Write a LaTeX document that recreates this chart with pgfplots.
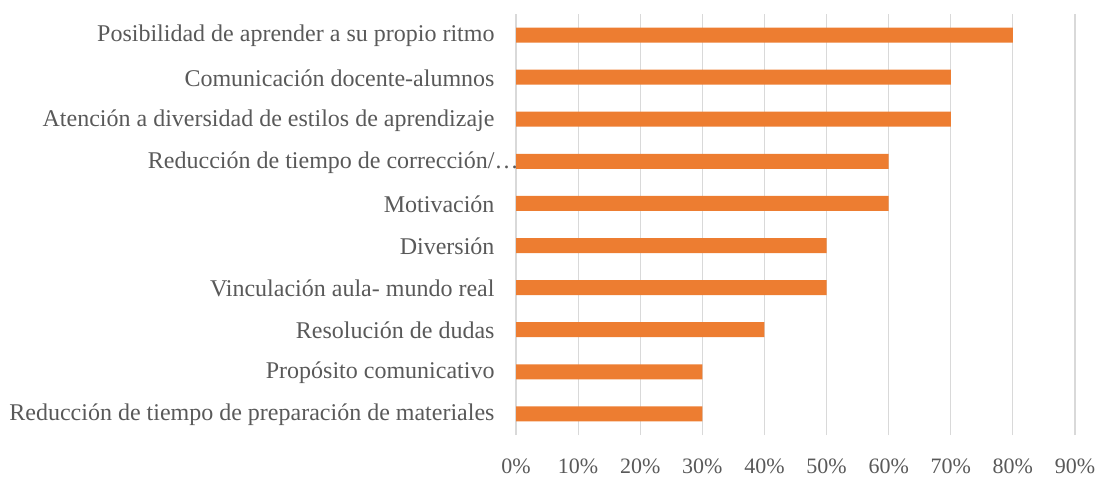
\documentclass[border=0pt]{standalone}
\usepackage{fontspec}
\setmainfont{Liberation Serif}
\usepackage{pgfplots}
\pgfplotsset{compat=1.18}
\definecolor{barorange}{HTML}{ED7D31}
\definecolor{txtgray}{HTML}{595959}
\definecolor{gridgray}{HTML}{D9D9D9}
\begin{document}
\begin{tikzpicture}
\useasboundingbox (0,0) rectangle (1115bp,486bp);
\begin{axis}[
  at={(516bp,51bp)}, anchor=south west,
  scale only axis,
  width=559bp, height=421bp,
  xmin=0, xmax=90, ymin=-0.5, ymax=9.5,
  axis line style={draw=none},
  xtick={0,10,...,90},
  xticklabel={\pgfmathprintnumber{\tick}\%},
  /pgf/number format/assume math mode=true,
  ytick={0,...,9},
  yticklabels={
    Reducción de tiempo de preparación de materiales,
    Propósito comunicativo,
    Resolución de dudas,
    Vinculación aula- mundo real,
    Diversión,
    Motivación,
    {Reducción de tiempo de corrección/\rlap{…}},
    Atención a diversidad de estilos de aprendizaje,
    Comunicación docente-alumnos,
    Posibilidad de aprender a su propio ritmo},
  major tick length=0pt,
  xmajorgrids,
  grid style={draw=gridgray, line width=1.2bp},
  tick label style={text=txtgray},
  yticklabel style={font=\fontsize{24bp}{28bp}\selectfont, anchor=east, xshift=-18bp, yshift=-1bp},
  xticklabel style={font=\fontsize{22bp}{26bp}\selectfont, anchor=north, yshift=-20bp},
  clip=false,
]
\addplot[xbar, bar width=15bp, fill=barorange, draw=none] coordinates {
  (30,0) (30,1) (40,2) (50,3) (50,4) (60,5) (60,6) (70,7) (70,8) (80,9)
};
\end{axis}
\end{tikzpicture}
\end{document}
